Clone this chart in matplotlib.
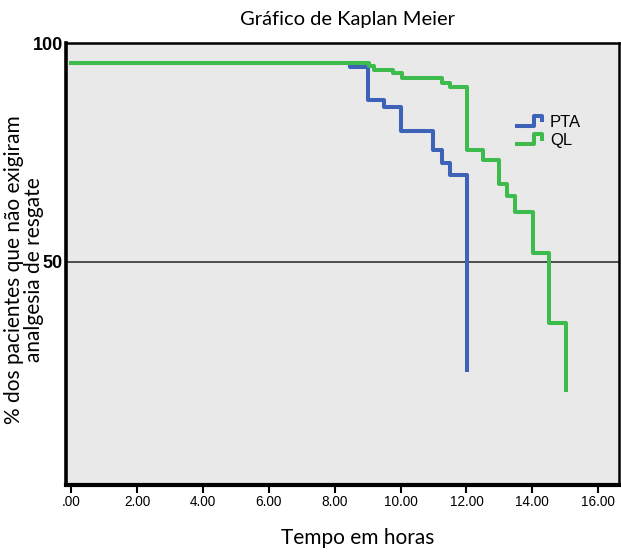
import matplotlib
matplotlib.use('Agg')
import matplotlib.pyplot as plt
from matplotlib.lines import Line2D
from matplotlib.legend_handler import HandlerBase

plt.rcParams['font.family'] = ['Liberation Sans', 'DejaVu Sans']

# tempos (horas) e sobrevivencia (%) apos cada degrau
pta_t = [0.0, 8.46, 9.02, 9.51, 10.02, 11.0, 11.25, 11.5, 12.01]
pta_s = [95.4, 94.6, 87.0, 85.4, 79.9, 75.5, 72.6, 69.8, 25.2]

ql_t = [0.0, 9.04, 9.2, 9.78, 10.05, 11.26, 11.5, 12.01, 12.5, 13.0, 13.23,
        13.48, 14.02, 14.52, 15.03]
ql_s = [95.4, 94.7, 93.8, 93.1, 92.1, 90.9, 90.0, 75.5, 73.3, 67.9, 65.0,
        61.3, 52.1, 36.1, 20.7]

xticks = [0, 2, 4, 6, 8, 10, 12, 14, 16]
xticklabels = ['.00', '2.00', '4.00', '6.00', '8.00', '10.00', '12.00', '14.00', '16.00']

BLUE = '#3d63b8'
GREEN = '#3dbb4c'
LABEL_FONT = ['Lato', 'DejaVu Sans']


class StepHandler(HandlerBase):
    # icone em degrau, como no SPSS
    def create_artists(self, legend, orig_handle, xdescent, ydescent,
                       width, height, fontsize, trans):
        x0 = -xdescent
        y0 = -ydescent
        xs = [x0, x0 + 0.68 * width, x0 + 0.68 * width, x0 + width, x0 + width]
        ys = [y0 + 0.1 * height, y0 + 0.1 * height, y0 + 0.95 * height,
              y0 + 0.95 * height, y0 + 0.55 * height]
        ln = Line2D(xs, ys, color=orig_handle.get_color(),
                    lw=orig_handle.get_linewidth(), transform=trans)
        return [ln]


fig = plt.figure(figsize=(6.21, 5.52), dpi=100)
ax = fig.add_axes([0.106, 0.121, 0.891, 0.801])
ax.set_facecolor('#e9e9e9')

ax.axhline(50, color='#222222', lw=1.1, zorder=1)

def steps(t, s):
    xs, ys = [t[0]], [s[0]]
    for i in range(1, len(t)):
        xs += [t[i], t[i]]
        ys += [s[i - 1], s[i]]
    return xs, ys

bx, by = steps(pta_t, pta_s)
gx, gy = steps(ql_t, ql_s)
l1, = ax.plot(bx, by, color=BLUE, lw=2.9, zorder=2, label='PTA')
l2, = ax.plot(gx, gy, color=GREEN, lw=2.9, zorder=3, label='QL')

ax.set_xlim(-0.17, 16.64)
ax.set_ylim(-1.05, 100)
ax.set_xticks(xticks)
ax.set_xticklabels(xticklabels, fontsize=9.8)
ax.set_yticks([50, 100])
ax.set_yticklabels(['50', '100'], fontsize=13, fontweight='bold')
ax.tick_params(axis='x', length=6, width=1.5, direction='out', pad=1)
ax.tick_params(axis='y', length=0, pad=2)

ax.spines['left'].set_linewidth(2.6)
ax.spines['bottom'].set_linewidth(3.0)
for side in ['top', 'right']:
    ax.spines[side].set_linewidth(1.8)

fig.text(347 / 621, 1 - 19 / 552, 'Gráfico de Kaplan Meier', family=LABEL_FONT,
         fontsize=14.5, ha='center', va='center')
fig.text(358 / 621, 1 - 538 / 552, 'Tempo em horas', family=LABEL_FONT,
         fontsize=15, ha='center', va='center')
fig.text(24 / 621, 1 - 270 / 552,
         '% dos pacientes que não exigiram\nanalgesia de resgate',
         family=LABEL_FONT, fontsize=15, rotation=90, ha='center', va='center',
         multialignment='center', linespacing=1.05)

leg = ax.legend(handles=[l1, l2], loc='upper left', bbox_to_anchor=(0.815, 0.838),
                frameon=False, fontsize=12, handlelength=1.5,
                handletextpad=0.5, labelspacing=0.2, borderpad=0,
                borderaxespad=0, handler_map={Line2D: StepHandler()})

fig.savefig('out.png', dpi=100)
